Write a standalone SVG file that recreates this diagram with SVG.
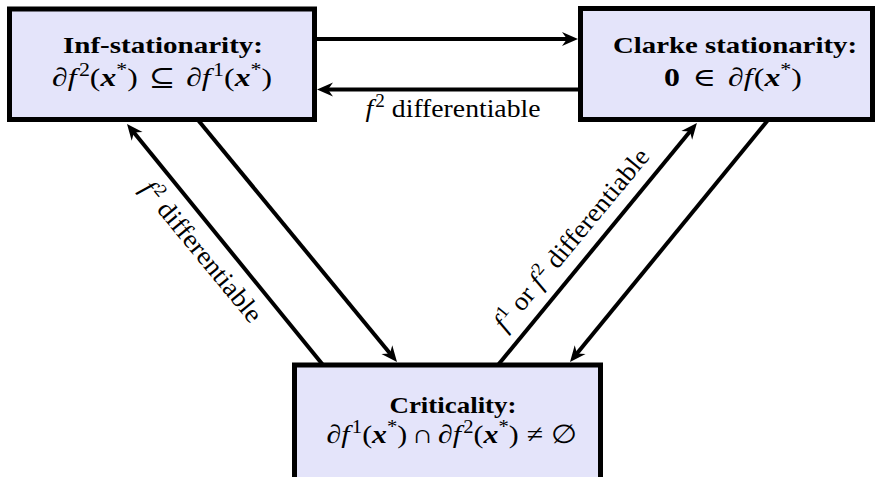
<svg xmlns="http://www.w3.org/2000/svg" width="880" height="477" viewBox="0 0 880 477">
<style>
.box{fill:#e4e4fa;stroke:#000;stroke-width:5}
.t{font-family:"Liberation Serif","DejaVu Serif",serif;font-size:26px;fill:#000}
.ttl{font-weight:bold;text-anchor:middle;font-size:24px}
.m{text-anchor:middle}
.it{font-style:italic}
.bi{font-style:italic;font-weight:bold}
.sup{font-size:18px}
.edge{stroke:#000;stroke-width:4;fill:none;marker-end:url(#ah)}
</style>
<defs>
<marker id="ah" markerUnits="userSpaceOnUse" markerWidth="30" markerHeight="30" refX="-9" refY="0" orient="auto" viewBox="-20 -10 30 20" overflow="visible">
<path d="M0,0 L-16,-7 L-11,0 L-16,7 Z" fill="#000"/>
</marker>
</defs>
<g id="connectors">
<line class="edge" x1="315" y1="39" x2="569" y2="39"/>
<line class="edge" x1="580" y1="89.5" x2="326" y2="89.5"/>
<line class="edge" x1="323" y1="365" x2="132.7" y2="131"/>
<line class="edge" x1="198" y1="120" x2="391.3" y2="355"/>
<line class="edge" x1="498" y1="365" x2="691.2" y2="130"/>
<line class="edge" x1="768" y1="120" x2="575.7" y2="355"/>
<text class="t m" x="453" y="117" textLength="175" lengthAdjust="spacingAndGlyphs"><tspan class="it">f</tspan><tspan class="sup" dx="2" dy="-10">2</tspan><tspan dy="10"> differentiable</tspan></text>
<text class="t m" x="0" y="0" transform="translate(195,257) rotate(50.5)" textLength="175" lengthAdjust="spacingAndGlyphs"><tspan class="it">f</tspan><tspan class="sup" dx="2" dy="-10">2</tspan><tspan dy="10"> differentiable</tspan></text>
<text class="t m" x="0" y="0" transform="translate(578,245) rotate(-50.4)" textLength="228" lengthAdjust="spacingAndGlyphs"><tspan class="it">f</tspan><tspan class="sup" dx="2" dy="-10">1</tspan><tspan dy="10"> or </tspan><tspan class="it">f</tspan><tspan class="sup" dx="2" dy="-10">2</tspan><tspan dy="10"> differentiable</tspan></text>
</g>
<g id="inf">
<rect class="box" x="9.5" y="9" width="305" height="110.5"/>
<text class="t ttl" x="163" y="53" textLength="200" lengthAdjust="spacingAndGlyphs">Inf-stationarity:</text>
<text class="t m" x="162" y="86" textLength="220" lengthAdjust="spacingAndGlyphs">∂<tspan class="it">f</tspan><tspan class="sup" dx="2" dy="-10">2</tspan><tspan dy="10">(</tspan><tspan class="bi">x</tspan><tspan class="sup" dy="-10">*</tspan><tspan dy="10">)</tspan><tspan dx="9">⊆</tspan><tspan dx="9">∂</tspan><tspan class="it">f</tspan><tspan class="sup" dx="2" dy="-10">1</tspan><tspan dy="10">(</tspan><tspan class="bi">x</tspan><tspan class="sup" dy="-10">*</tspan><tspan dy="10">)</tspan></text>
</g>
<g id="clarke">
<rect class="box" x="580.5" y="8.5" width="292" height="111"/>
<text class="t ttl" x="735" y="53" textLength="244" lengthAdjust="spacingAndGlyphs">Clarke stationarity:</text>
<text class="t m" x="733" y="86" textLength="138" lengthAdjust="spacingAndGlyphs"><tspan font-weight="bold">0</tspan><tspan dx="10">∈</tspan><tspan dx="10">∂</tspan><tspan class="it">f</tspan><tspan dx="1">(</tspan><tspan class="bi">x</tspan><tspan class="sup" dy="-10">*</tspan><tspan dy="10">)</tspan></text>
</g>
<g id="crit">
<rect class="box" x="294.5" y="365" width="306" height="130"/>
<text class="t ttl" x="453" y="413" textLength="127" lengthAdjust="spacingAndGlyphs">Criticality:</text>
<text class="t m" x="452" y="443" textLength="251" lengthAdjust="spacingAndGlyphs">∂<tspan class="it">f</tspan><tspan class="sup" dx="2" dy="-10">1</tspan><tspan dy="10">(</tspan><tspan class="bi">x</tspan><tspan class="sup" dy="-10">*</tspan><tspan dy="10">)</tspan><tspan dx="4">∩</tspan><tspan dx="4">∂</tspan><tspan class="it">f</tspan><tspan class="sup" dx="2" dy="-10">2</tspan><tspan dy="10">(</tspan><tspan class="bi">x</tspan><tspan class="sup" dy="-10">*</tspan><tspan dy="10">)</tspan><tspan dx="7">≠</tspan><tspan dx="7">∅</tspan></text>
</g>
</svg>
